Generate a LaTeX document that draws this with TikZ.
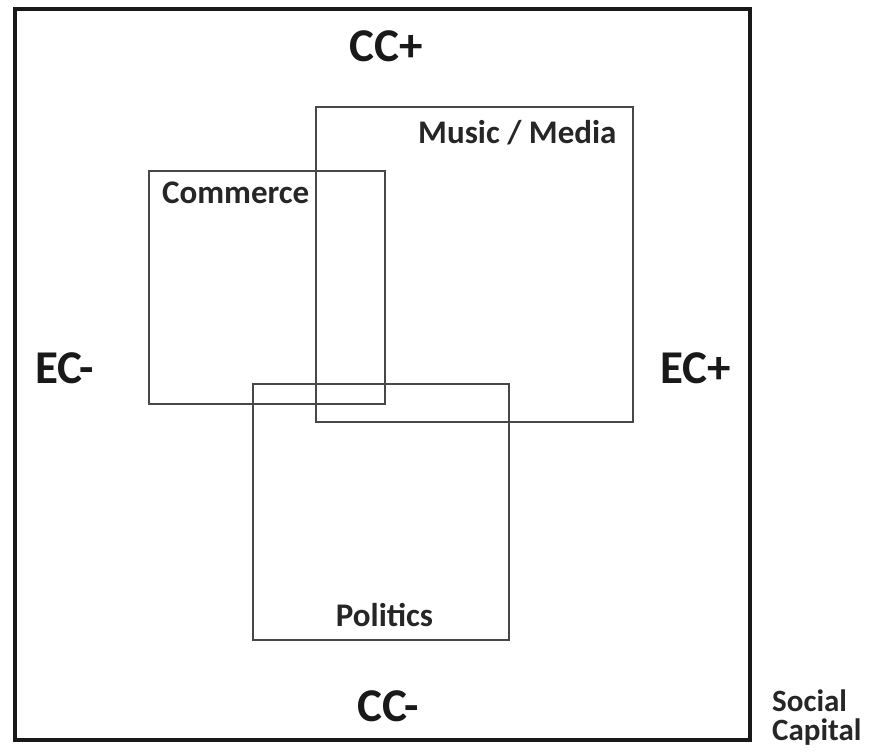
\documentclass[tikz,border=0pt]{standalone}
\usepackage{fontspec}
\setmainfont{Carlito}
\begin{document}
\begin{tikzpicture}[x=1pt,y=-1pt,
  outerbox/.style={draw=black!90,line width=4pt,inner sep=0pt,outer sep=0pt},
  innerbox/.style={draw=black!72,line width=2pt,inner sep=0pt,outer sep=0pt},
  biglbl/.style={inner sep=0pt,font=\fontsize{47}{56}\selectfont\bfseries,text=black!90},
  smalllbl/.style={inner sep=0pt,font=\fontsize{33}{40}\selectfont\bfseries,text=black!85},
  sidelbl/.style={inner sep=0pt,font=\fontsize{31}{28.5}\selectfont\bfseries,text=black!85,align=left}]
\useasboundingbox (0,0) rectangle (873,753);
\node[outerbox,minimum width=735pt,minimum height=730.5pt] (outer) at (382,374.25) {};
\node[innerbox,minimum width=317pt,minimum height=315pt] (music) at (474.5,264) {};
\node[innerbox,minimum width=235.5pt,minimum height=232.5pt] (commerce) at (266.75,287.25) {};
\node[innerbox,minimum width=256pt,minimum height=256pt] (politics) at (381,511.5) {};
\node[biglbl,anchor=base] (ccplus) at (386,61) {CC+};
\node[biglbl,anchor=base] (ccminus) at (388,721) {CC-};
\node[biglbl,anchor=base west] (ecminus) at (35,383) {EC-};
\node[biglbl,anchor=base west] (ecplus) at (660,383) {EC+};
\node[smalllbl,anchor=base west] (musiclbl) at (418,143) {Music / Media};
\node[smalllbl,anchor=base west] (commercelbl) at (162,203) {Commerce};
\node[smalllbl,anchor=base] (politicslbl) at (384.5,626.5) {Politics};
\node[sidelbl,anchor=base west] (social) at (772,740) {Social\\Capital};
\end{tikzpicture}
\end{document}
